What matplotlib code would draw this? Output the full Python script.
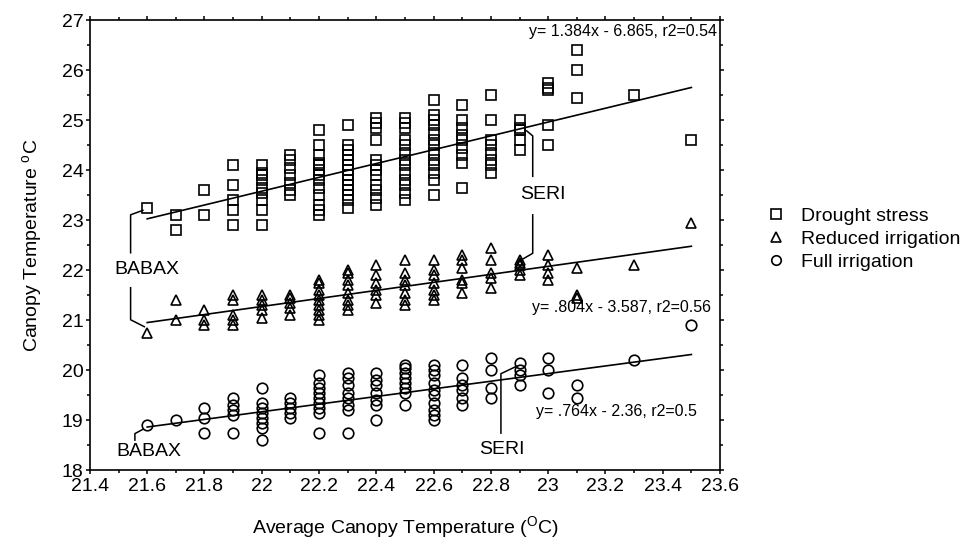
import matplotlib
matplotlib.use('Agg')
import matplotlib.pyplot as plt
from matplotlib.ticker import MultipleLocator, FuncFormatter

plt.rcParams['font.family'] = ['Liberation Sans', 'DejaVu Sans']
plt.rcParams['mathtext.fontset'] = 'custom'
plt.rcParams['mathtext.rm'] = 'Liberation Sans'

# x columns (average canopy temperature) and the canopy temperatures read at each
drought_cols = [21.6, 21.7, 21.8, 21.9, 22.0, 22.1, 22.2, 22.3, 22.4, 22.5,
                22.6, 22.7, 22.8, 22.9, 23.0, 23.1, 23.3, 23.5]
drought_vals = [
    [23.25],
    [23.1, 22.8],
    [23.6, 23.1],
    [24.1, 23.7, 23.4, 23.2, 22.9],
    [24.1, 23.95, 23.9, 23.8, 23.65, 23.55, 23.4, 23.2, 22.9],
    [24.3, 24.2, 24.05, 23.9, 23.75, 23.6, 23.5],
    [24.8, 24.5, 24.3, 24.15, 24.1, 24.0, 23.9, 23.8, 23.65, 23.5, 23.3, 23.2, 23.1],
    [24.9, 24.5, 24.4, 24.3, 24.2, 24.1, 24.0, 23.9, 23.8, 23.7, 23.6, 23.5, 23.4, 23.25],
    [25.05, 24.95, 24.85, 24.6, 24.2, 24.1, 24.0, 23.9, 23.7, 23.6, 23.45, 23.3],
    [25.05, 24.95, 24.85, 24.6, 24.5, 24.35, 24.2, 24.1, 23.95, 23.8, 23.7, 23.55, 23.4],
    [25.4, 25.1, 25.0, 24.9, 24.75, 24.6, 24.5, 24.35, 24.2, 24.1, 23.95, 23.8, 23.5],
    [25.3, 25.0, 24.85, 24.7, 24.6, 24.45, 24.3, 24.15, 23.65],
    [25.5, 25.0, 24.6, 24.5, 24.35, 24.2, 24.1, 23.95],
    [25.0, 24.85, 24.8, 24.6, 24.4],
    [25.75, 25.65, 25.6, 24.9, 24.5],
    [26.4, 26.0, 25.45],
    [25.5],
    [24.6],
]

reduced_cols = drought_cols
reduced_vals = [
    [20.75],
    [21.4, 21.0],
    [21.2, 21.0, 20.9],
    [21.5, 21.4, 21.1, 21.0, 20.9],
    [21.5, 21.4, 21.3, 21.2, 21.05],
    [21.5, 21.45, 21.35, 21.25, 21.1],
    [21.8, 21.75, 21.6, 21.5, 21.4, 21.3, 21.2, 21.1, 21.0],
    [22.0, 21.95, 21.8, 21.7, 21.55, 21.4, 21.3, 21.2],
    [22.1, 21.9, 21.75, 21.6, 21.5, 21.35],
    [22.2, 21.95, 21.8, 21.7, 21.55, 21.4, 21.3],
    [22.2, 22.0, 21.9, 21.75, 21.6, 21.5, 21.4],
    [22.3, 22.2, 22.05, 21.8, 21.75, 21.55],
    [22.45, 22.2, 21.95, 21.85, 21.65],
    [22.2, 22.15, 22.1, 22.0, 21.9],
    [22.3, 22.1, 21.95, 21.8],
    [22.05, 21.5, 21.45],
    [22.1],
    [22.95],
]

full_cols = drought_cols
full_vals = [
    [18.9],
    [19.0],
    [19.25, 19.05, 18.75],
    [19.45, 19.3, 19.2, 19.1, 18.75],
    [19.65, 19.35, 19.25, 19.15, 19.05, 18.95, 18.85, 18.6],
    [19.45, 19.35, 19.25, 19.15, 19.05],
    [19.9, 19.75, 19.65, 19.55, 19.45, 19.35, 19.25, 19.15, 18.75],
    [19.95, 19.85, 19.7, 19.55, 19.45, 19.3, 19.2, 18.75],
    [19.95, 19.8, 19.7, 19.55, 19.4, 19.3, 19.0],
    [20.1, 20.05, 19.95, 19.85, 19.75, 19.65, 19.55, 19.3],
    [20.1, 20.0, 19.9, 19.75, 19.6, 19.5, 19.35, 19.2, 19.1, 19.0],
    [20.1, 19.85, 19.7, 19.6, 19.45, 19.3],
    [20.25, 20.0, 19.65, 19.45],
    [20.15, 20.0, 19.9, 19.7],
    [20.25, 20.0, 19.55],
    [19.7, 19.45],
    [20.2],
    [20.9],
]

series_labels = ['Drought stress', 'Reduced irrigation', 'Full irrigation']
series_markers = ['s', '^', 'o']

# fitted lines as drawn (slope, intercept) over the data range
fit_slopes = [1.384, 0.804, 0.764]
fit_intercepts = [-6.865, 3.587, 2.36]
fit_x = [21.6, 23.5]
fit_texts = ['y= 1.384x - 6.865, r2=0.54',
             'y= .804x - 3.587, r2=0.56',
             'y= .764x - 2.36, r2=0.5']
fit_text_pos = [(23.59, 26.78), (23.57, 21.25), (23.52, 19.18)]


def flatten(cols, vals):
    xs, ys = [], []
    for c, v in zip(cols, vals):
        for y in v:
            xs.append(c)
            ys.append(y)
    return xs, ys


fig = plt.figure(figsize=(9.67, 5.46), dpi=100)
ax = fig.add_axes([0.093, 0.139, 0.6516, 0.8235])

all_series = [(drought_cols, drought_vals), (reduced_cols, reduced_vals), (full_cols, full_vals)]
handles = []
for (cols, vals), lab, mk in zip(all_series, series_labels, series_markers):
    xs, ys = flatten(cols, vals)
    h, = ax.plot(xs, ys, linestyle='none', marker=mk, markersize=7.6,
                 markerfacecolor='none', markeredgecolor='black',
                 markeredgewidth=1.2, label=lab)
    handles.append(h)

for m, b, txt, pos in zip(fit_slopes, fit_intercepts, fit_texts, fit_text_pos):
    ax.plot(fit_x, [m * x + b for x in fit_x], color='black', lw=1.2)
    ax.text(pos[0], pos[1], txt, ha='right', va='center', fontsize=11.5)

# cultivar call-outs
lw_c = 1.1
ax.plot([21.585, 21.542, 21.542], [23.2, 23.11, 22.35], color='black', lw=lw_c)
ax.text(21.6, 22.01, 'BABAX', ha='center', va='center', fontsize=14)
ax.plot([21.542, 21.542, 21.59], [21.65, 21.01, 20.87], color='black', lw=lw_c)

ax.plot([21.557, 21.557, 21.586], [18.60, 18.73, 18.82], color='black', lw=lw_c)
ax.text(21.606, 18.37, 'BABAX', ha='center', va='center', fontsize=14)

ax.plot([22.925, 22.946, 22.946], [24.79, 24.69, 23.88], color='black', lw=lw_c)
ax.text(22.98, 23.52, 'SERI', ha='center', va='center', fontsize=14)
ax.plot([22.946, 22.946, 22.91], [23.11, 22.34, 22.22], color='black', lw=lw_c)

ax.plot([22.835, 22.835, 22.89], [18.74, 19.93, 20.08], color='black', lw=lw_c)
ax.text(22.84, 18.41, 'SERI', ha='center', va='center', fontsize=14)

ax.set_xlim(21.4, 23.6)
ax.set_ylim(18, 27)
ax.xaxis.set_major_locator(MultipleLocator(0.2))
ax.xaxis.set_minor_locator(MultipleLocator(0.1))
ax.yaxis.set_major_locator(MultipleLocator(1))
ax.yaxis.set_minor_locator(MultipleLocator(0.5))
ax.xaxis.set_major_formatter(FuncFormatter(lambda v, p: f'{v:g}'))
ax.tick_params(which='both', direction='out', top=True, right=True, width=1.1)
ax.tick_params(which='major', length=3.2, labelsize=14, pad=1.5)
ax.tick_params(axis='x', which='major', pad=2.5)
ax.tick_params(which='minor', length=2)
for s in ax.spines.values():
    s.set_linewidth(1.2)

ax.set_xlabel('Average Canopy Temperature ($^{\\mathrm{O}}$C)', fontsize=14, labelpad=14)
ax.set_ylabel('Canopy Temperature $^{\\mathrm{o}}$C', fontsize=14, labelpad=12)

fig.legend(handles=handles, loc='upper left', bbox_to_anchor=(0.792, 0.62),
           frameon=False, fontsize=14, handlelength=1.0, handletextpad=0.8,
           labelspacing=0.28, borderpad=0, borderaxespad=0, markerscale=0.9)

fig.savefig('out.png', dpi=100)
